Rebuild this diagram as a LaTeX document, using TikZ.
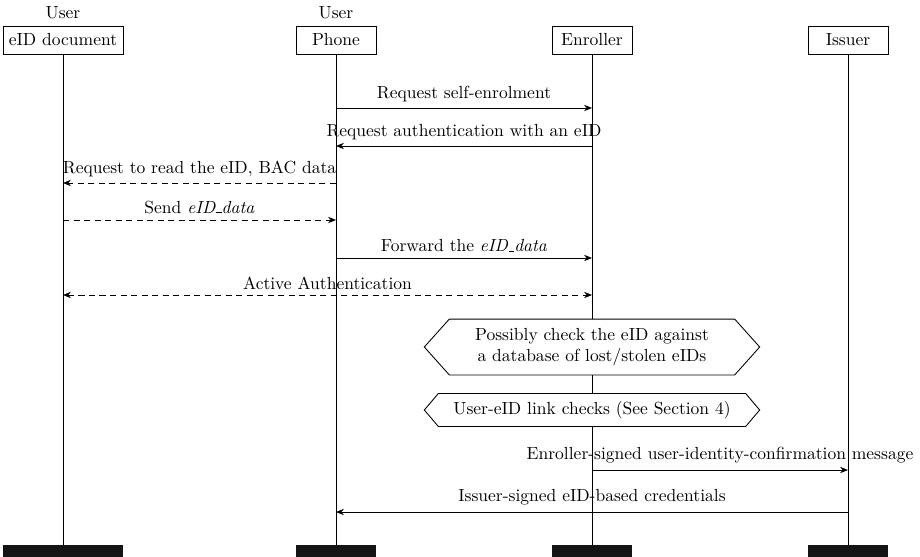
\documentclass[tikz,border=0pt]{standalone}
\usetikzlibrary{arrows.meta,calc}
% narrow underscore rule, as in classic Computer Modern
\newcommand\shortus{\leavevmode\kern.06em\vbox{\hrule width.3em}}
\begin{document}
\begin{tikzpicture}[x=0.571pt,y=-0.571pt,
  line width=0.5pt,
  actor/.style={draw, minimum width=45.7pt, minimum height=16pt, inner sep=3.33pt, fill=white},
  role/.style={inner sep=1pt},
  msg/.style={-{Stealth[length=4.5pt,width=3.6pt]}},
  bimsg/.style={{Stealth[length=4.5pt,width=3.6pt]}-{Stealth[length=4.5pt,width=3.6pt]}},
  dashline/.style={dash pattern=on 3.5pt off 2.5pt},
  msglabel/.style={anchor=south, inner sep=3.5pt},
  checkbox/.style={inner sep=0pt, align=center}]
\useasboundingbox (0,0) rectangle (920,557);

% participants
\node[actor] (eid) at (63,40) {eID document};
\node[actor] (phone) at (336,40) {Phone};
\node[actor] (enroller) at (592,40) {Enroller};
\node[actor] (issuer) at (848,40) {Issuer};
\node[role] (u1) at (63,13) {User};
\node[role] (u2) at (336,13) {User};

% end bars and lifelines
\foreach \p in {eid,phone,enroller,issuer}{
  \fill[black!92] (\p.west |- 0,545) rectangle (\p.east |- 0,557);
  \draw (\p.south) -- (\p.south |- 0,545);
}

% message end points
\foreach \p/\q/\y in {1/phone/108, 2/enroller/146, 3/phone/183, 4/eid/220, 5/phone/258, 6/eid/295, 7/enroller/470, 8/issuer/512}
  \coordinate (s\p) at (\q |- 0,\y);
\foreach \p/\q/\y in {1/enroller/108, 2/phone/146, 3/eid/183, 4/phone/220, 5/enroller/258, 6/enroller/295, 7/issuer/470, 8/phone/512}
  \coordinate (t\p) at (\q |- 0,\y);

\draw[msg] (s1) -- node[msglabel] {Request self-enrolment} (t1);
\draw[msg] (s2) -- node[msglabel] {Request authentication with an eID} (t2);
\draw[msg, dashline] (s3) -- node[msglabel] {Request to read the eID, BAC data} (t3);
\draw[msg, dashline] (s4) -- node[msglabel] {Send \textit{eID\shortus data}} (t4);
\draw[msg] (s5) -- node[msglabel] {Forward the \textit{eID\shortus data}} (t5);
\draw[bimsg, dashline] (s6) -- node[msglabel, inner sep=3pt] {Active Authentication} (t6);
\draw[msg] (s7) -- node[msglabel] {Enroller-signed user-identity-confirmation message} (t7);
\draw[msg] (s8) -- node[msglabel] {Issuer-signed eID-based credentials} (t8);

% enroller checks
\node[checkbox, minimum width=191pt, minimum height=31.4pt] (chk1) at (592,347)
  {Possibly check the eID against\\a database of lost/stolen eIDs};
\node[checkbox, minimum width=191pt, minimum height=18.3pt] (chk2) at (592,410)
  {User-eID link checks (See Section 4)};
\foreach \h/\d in {chk1/25, chk2/14}{
  \filldraw[fill=white] ($(\h.north west)+(\d,0)$) -- ($(\h.north east)+(-\d,0)$) -- (\h.east)
    -- ($(\h.south east)+(-\d,0)$) -- ($(\h.south west)+(\d,0)$) -- (\h.west) -- cycle;
}
\node[checkbox] at (chk1) {Possibly check the eID against\\a database of lost/stolen eIDs};
\node[checkbox] at (chk2) {User-eID link checks (See Section 4)};
\end{tikzpicture}
\end{document}
